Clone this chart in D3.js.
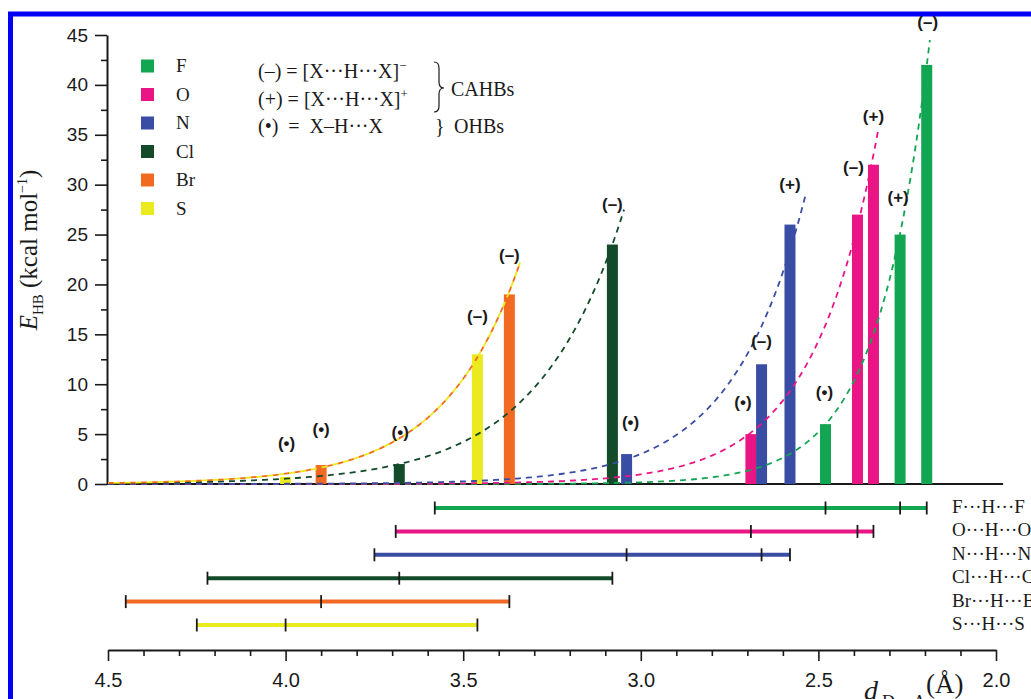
<!DOCTYPE html>
<html lang="en">
<head>
<meta charset="utf-8">
<title>Hydrogen bond energy vs donor-acceptor distance</title>
<script src="https://d3js.org/d3.v7.min.js"></script>
<style>
    body {
        margin: 0;
        background: #fff;
    }
    svg text {
        fill: #1a1a1a;
    }
    .tick text {
        font-family: "Liberation Sans", Arial, sans-serif;
    }
    .serif {
        font-family: "Liberation Serif", "Times New Roman", serif;
    }
    .mark {
        font-family: "Liberation Sans", Arial, sans-serif;
        font-weight: bold;
        font-size: 17px;
    }
</style>
</head>
<body>
<div id="chart"></div>
<script>

// ---------------- data ----------------
var elements   = ["F", "O", "N", "Cl", "Br", "S"];
var colors     = ["#12a552", "#ea1585", "#3a4da5", "#134a29", "#f26a22", "#eaea1e"];
var pairLabels = ["F\u00b7\u00b7\u00b7H\u00b7\u00b7\u00b7F", "O\u00b7\u00b7\u00b7H\u00b7\u00b7\u00b7O",
                  "N\u00b7\u00b7\u00b7H\u00b7\u00b7\u00b7N", "Cl\u00b7\u00b7\u00b7H\u00b7\u00b7\u00b7Cl",
                  "Br\u00b7\u00b7\u00b7H\u00b7\u00b7\u00b7Br", "S\u00b7\u00b7\u00b7H\u00b7\u00b7\u00b7S"];

// left end of each distance range (Angstrom)
var rangeStart = [3.58, 3.69, 3.75, 4.22, 4.45, 4.25];

// bonds per element: distance, energy, type
var dist   = [[2.48, 2.27, 2.195], [2.69, 2.39, 2.345], [3.04, 2.66, 2.58], [3.68, 3.08], [3.90, 3.37], [4.00, 3.46]];
var energy = [[6, 25, 42],         [5, 27, 32],         [3, 12, 26],        [2, 24],      [1.9, 19],    [0.7, 13]];
var kinds  = [["(\u2022)", "(+)", "(\u2013)"], ["(\u2022)", "(\u2013)", "(+)"], ["(\u2022)", "(\u2013)", "(+)"],
              ["(\u2022)", "(\u2013)"], ["(\u2022)", "(\u2013)"], ["(\u2022)", "(\u2013)"]];

// Br and S share one fitted curve (drawn in both colours)
var curveGroup = [0, 1, 2, 3, 4, 4];
// energy where each dashed fit curve stops
var curveTop = [44.5, 35.5, 29, 27.5, 22.2, 22.2];

var yTicks = [0, 5, 10, 15, 20, 25, 30, 35, 40, 45];
var xTicks = [4.5, 4.0, 3.5, 3.0, 2.5, 2.0];

// label nudges (layout only)
var labelLift  = [[32, 38, 43], [32, 48, 49], [32, 23, 41], [32, 41], [36, 39], [34, 38]];
var labelShift = [[-1, -2, 1], [-8, -4, 0], [4, 0, 0], [1, 0], [0, 0], [1, 0]];

// ---------------- layout ----------------
var width = 1031, height = 699;

var svg = d3.select("#chart").append("svg")
    .attr("width", width)
    .attr("height", height);

var x = d3.scaleLinear().domain([4.5, 2.0]).range([108, 996]);
var y = d3.scaleLinear().domain([0, 45]).range([484, 35]);
var row = d3.scalePoint().domain(elements).range([508, 625]);

// blue frame
svg.append("rect")
    .attr("x", 10.5).attr("y", 14)
    .attr("width", 1200).attr("height", 900)
    .attr("fill", "none")
    .attr("stroke", "#0000f5")
    .attr("stroke-width", 5);

// ---------------- y axis ----------------
var yAxis = svg.append("g")
    .attr("transform", "translate(107,0)")
    .call(d3.axisLeft(y).tickValues(yTicks).tickSize(12).tickSizeOuter(0).tickPadding(7));
yAxis.selectAll("text").style("font-size", "19px").attr("fill", "#1a1a1a");

svg.append("g")
    .attr("transform", "translate(107,0)")
    .call(d3.axisLeft(y).tickValues(d3.range(2.5, 45, 5)).tickSize(6).tickSizeOuter(0).tickFormat(""))
    .select(".domain").remove();

svg.selectAll(".domain").attr("stroke", "#1a1a1a").attr("stroke-width", 2);
svg.selectAll(".tick line").attr("stroke", "#1a1a1a").attr("stroke-width", 1.6);

// zero line
svg.append("line")
    .attr("x1", x(4.5) - 1).attr("x2", x(1.98))
    .attr("y1", y(0)).attr("y2", y(0))
    .attr("stroke", "#1a1a1a")
    .attr("stroke-width", 2);

// y title
var yt = svg.append("text")
    .attr("class", "serif")
    .attr("transform", "translate(37,250) rotate(-90)")
    .attr("text-anchor", "middle")
    .style("font-size", "25px");
yt.append("tspan").style("font-style", "italic").text("E");
yt.append("tspan").attr("dy", 6).style("font-size", "15px").text("HB");
yt.append("tspan").attr("dy", -6).text(" (kcal mol");
yt.append("tspan").attr("dy", -10).style("font-size", "14px").text("\u22121");
yt.append("tspan").attr("dy", 10).text(")");

// ---------------- bars, curves, labels ----------------
var bars = svg.append("g");
var curves = svg.append("g");
var marks = svg.append("g");

function groupPoints(g) {
    var out = [];
    elements.forEach(function(el, i) {
        if (curveGroup[i] != g) return;
        dist[i].forEach(function(d, j) { out.push({d: d, e: energy[i][j]}); });
    });
    return out;
}

elements.forEach(function(el, i) {
    var pts = dist[i].map(function(d, j) { return {d: d, e: energy[i][j], k: kinds[i][j], j: j}; });

    bars.selectAll("rect.b" + i)
        .data(pts)
        .enter().append("rect")
        .attr("x", function(p) { return x(p.d) - 5.5; })
        .attr("width", 11)
        .attr("y", function(p) { return y(p.e); })
        .attr("height", function(p) { return y(0) - y(p.e); })
        .attr("fill", colors[i]);

    // exponential fit  ln E = icpt + slope*d, least squares weighted by E
    var fp = groupPoints(curveGroup[i]);
    var sw = d3.sum(fp, function(p) { return p.e; });
    var mx = d3.sum(fp, function(p) { return p.e * p.d; }) / sw;
    var my = d3.sum(fp, function(p) { return p.e * Math.log(p.e); }) / sw;
    var sxy = d3.sum(fp, function(p) { return p.e * (p.d - mx) * (Math.log(p.e) - my); });
    var sxx = d3.sum(fp, function(p) { return p.e * (p.d - mx) * (p.d - mx); });
    var slope = sxy / sxx;
    var icpt = my - slope * mx;
    var dEnd = (Math.log(curveTop[i]) - icpt) / slope;

    var line = d3.line()
        .x(function(d) { return x(d); })
        .y(function(d) { return y(Math.exp(icpt + slope * d)); });

    var shared = (curveGroup[i] != i);
    curves.append("path")
        .datum(d3.range(4.5, dEnd, -0.01).concat([dEnd]))
        .attr("d", line)
        .attr("fill", "none")
        .attr("stroke", colors[i])
        .attr("stroke-width", 1.8)
        .attr("stroke-dasharray", "6,5")
        .attr("stroke-dashoffset", shared ? 5.5 : 0);

    marks.selectAll("text.m" + i)
        .data(pts)
        .enter().append("text")
        .attr("class", "mark")
        .attr("text-anchor", "middle")
        .attr("x", function(p) { return x(p.d) + labelShift[i][p.j]; })
        .attr("y", function(p) { return y(p.e) - labelLift[i][p.j] + 6; })
        .text(function(p) { return p.k; });
});

// ---------------- distance ranges ----------------
var ranges = svg.append("g");
elements.forEach(function(el, i) {
    var yy = row(el);
    var dMin = d3.min(dist[i]);
    ranges.append("line")
        .attr("x1", x(rangeStart[i])).attr("x2", x(dMin))
        .attr("y1", yy).attr("y2", yy)
        .attr("stroke", colors[i])
        .attr("stroke-width", 4);
    ranges.selectAll("line.t" + i)
        .data([rangeStart[i]].concat(dist[i]))
        .enter().append("line")
        .attr("x1", function(d) { return x(d); })
        .attr("x2", function(d) { return x(d); })
        .attr("y1", yy - 6.5).attr("y2", yy + 6.5)
        .attr("stroke", "#1a1a1a")
        .attr("stroke-width", 1.8);
    ranges.append("text")
        .attr("class", "serif")
        .attr("x", 952)
        .attr("y", yy + 5)
        .style("font-size", "19px")
        .text(pairLabels[i]);
});

// ---------------- x axis ----------------
var xAxis = svg.append("g")
    .attr("transform", "translate(0,650)")
    .call(d3.axisBottom(x).tickValues(xTicks).tickSize(11).tickSizeOuter(0).tickPadding(12).tickFormat(d3.format(".1f")));
xAxis.selectAll("text").style("font-size", "20px").attr("fill", "#1a1a1a");
xAxis.select(".domain").attr("stroke", "#1a1a1a").attr("stroke-width", 2);
xAxis.selectAll(".tick line").attr("stroke", "#1a1a1a").attr("stroke-width", 1.6);

svg.append("g")
    .attr("transform", "translate(0,650)")
    .call(d3.axisBottom(x).tickValues(d3.range(45, 20, -1).filter(function(v) { return v % 5 != 0; }).map(function(v) { return v / 10; }))
        .tickSize(6).tickSizeOuter(0).tickFormat(""))
    .call(function(g) { g.select(".domain").remove(); })
    .selectAll("line").attr("stroke", "#1a1a1a").attr("stroke-width", 1.6);

// x title
svg.append("text").attr("class", "serif")
    .attr("x", 864).attr("y", 700)
    .style("font-size", "28px").style("font-style", "italic")
    .text("d");
svg.append("text").attr("class", "serif")
    .attr("x", 882).attr("y", 708)
    .style("font-size", "18px")
    .text("D\u00b7\u00b7\u00b7A");
svg.append("text").attr("class", "serif")
    .attr("x", 926).attr("y", 693)
    .style("font-size", "27px")
    .text("(\u00c5)");

// ---------------- legend ----------------
var legend = svg.append("g");
elements.forEach(function(el, i) {
    var ly = 66 + i * 28.5;
    legend.append("rect")
        .attr("x", 141).attr("y", ly - 6.5)
        .attr("width", 13).attr("height", 13)
        .attr("fill", colors[i]);
    legend.append("text").attr("class", "serif")
        .attr("x", 176).attr("y", ly + 6)
        .style("font-size", "19px")
        .text(el);
});

// ---------------- notation key ----------------
var key = svg.append("g").attr("class", "serif").style("font-size", "20px");
var k1 = key.append("text").attr("x", 258).attr("y", 78);
k1.append("tspan").text("(\u2013) = [X\u00b7\u00b7\u00b7H\u00b7\u00b7\u00b7X]");
k1.append("tspan").attr("dy", -8).style("font-size", "13px").text("\u2212");
var k2 = key.append("text").attr("x", 258).attr("y", 106);
k2.append("tspan").text("(+) = [X\u00b7\u00b7\u00b7H\u00b7\u00b7\u00b7X]");
k2.append("tspan").attr("dy", -8).style("font-size", "13px").text("+");
key.append("text").attr("x", 258).attr("y", 133).text("(\u2022)\u00a0 =\u00a0 X\u2013H\u00b7\u00b7\u00b7X");

// tall brace for CAHBs
key.append("path")
    .attr("d", "M434,62 Q439,62 439,68 L439,82 Q439,88 444,88 Q439,88 439,94 L439,106 Q439,112 434,112")
    .attr("fill", "none")
    .attr("stroke", "#1a1a1a")
    .attr("stroke-width", 1.2);
key.append("text").attr("x", 451).attr("y", 96).text("CAHBs");
key.append("text").attr("x", 435).attr("y", 133).text("}");
key.append("text").attr("x", 454).attr("y", 133).text("OHBs");

</script>
</body>
</html>
